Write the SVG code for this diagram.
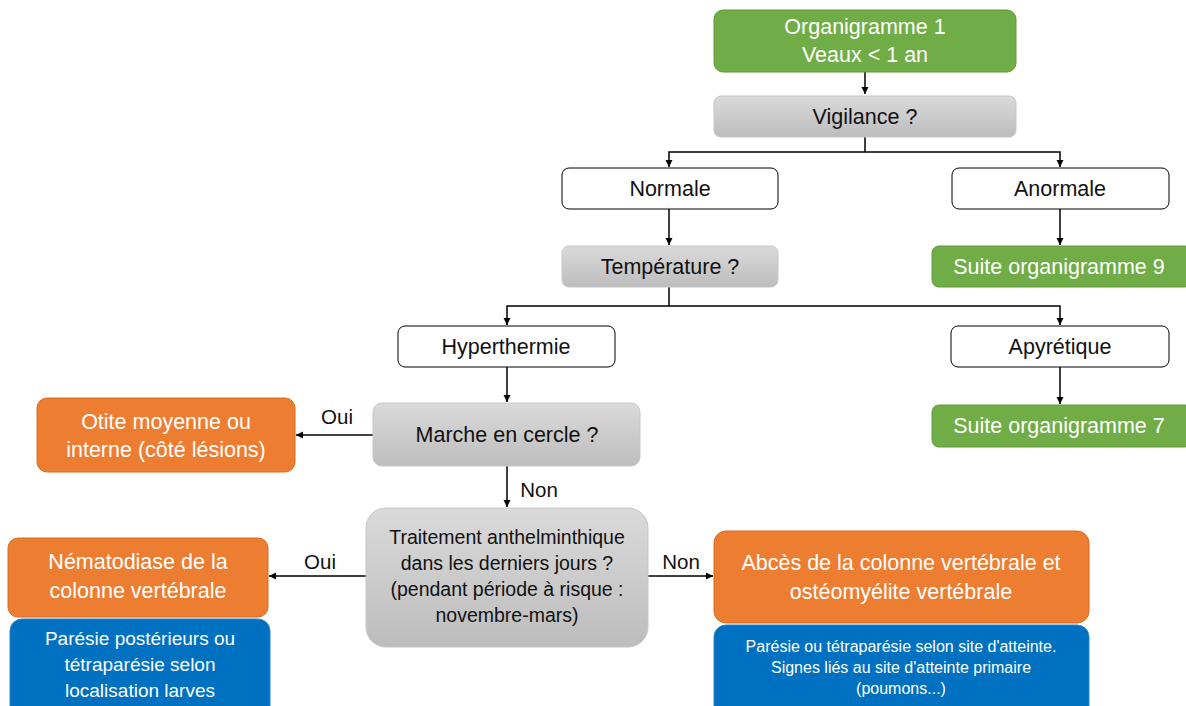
<svg xmlns="http://www.w3.org/2000/svg" width="1186" height="706" viewBox="0 0 1186 706">
  <defs>
    <linearGradient id="grayFill" x1="0" y1="0" x2="0" y2="1">
      <stop offset="0" stop-color="#DADADA"/>
      <stop offset="1" stop-color="#BDBDBD"/>
    </linearGradient>
    <marker id="arrow" markerWidth="8" markerHeight="8" refX="7" refY="4" orient="auto" markerUnits="userSpaceOnUse">
      <path d="M0,0.5 L7,4 L0,7.5 z" fill="#000"/>
    </marker>
  </defs>
  <style>
    text { font-family: "Liberation Sans", Arial, sans-serif; text-anchor: middle; dominant-baseline: central; }
    .green { fill: #70AD47; stroke: #5E9A3A; stroke-width: 1; }
    .gray { fill: url(#grayFill); stroke: #C6C6C6; stroke-width: 1; }
    .white { fill: #FFFFFF; stroke: #000; stroke-width: 1; }
    .orange { fill: #ED7D31; stroke: #D86C25; stroke-width: 1; }
    .blue { fill: #0070C0; stroke: #2E84C8; stroke-width: 1; }
    .lt { fill: #FFFFFF; }
    .dk { fill: #111111; }
    .f18 { font-size: 21.5px; }
    .f15 { font-size: 19.5px; }
    .f16 { font-size: 19px; }
    .f13 { font-size: 16px; }
    .conn { fill: none; stroke: #000; stroke-width: 1.5; }
    .lbl { font-size: 20.5px; fill: #111111; }
  </style>

  <!-- connectors -->
  <g id="connectors">
    <path class="conn" d="M865,72 V94" marker-end="url(#arrow)"/>
    <path class="conn" d="M865,137 V152 H669 V167" marker-end="url(#arrow)"/>
    <path class="conn" d="M865,152 H1060 V167" marker-end="url(#arrow)"/>
    <path class="conn" d="M669,209 V245" marker-end="url(#arrow)"/>
    <path class="conn" d="M1060,209 V245" marker-end="url(#arrow)"/>
    <path class="conn" d="M669,287 V306 H507 V325" marker-end="url(#arrow)"/>
    <path class="conn" d="M669,306 H1060 V325" marker-end="url(#arrow)"/>
    <path class="conn" d="M507,367 V402" marker-end="url(#arrow)"/>
    <path class="conn" d="M1060,367 V404" marker-end="url(#arrow)"/>
    <path class="conn" d="M373,435 H296" marker-end="url(#arrow)"/>
    <text class="lbl" x="337" y="416">Oui</text>
    <path class="conn" d="M507,466 V507" marker-end="url(#arrow)"/>
    <text class="lbl" x="539" y="489">Non</text>
    <path class="conn" d="M366,576 H269" marker-end="url(#arrow)"/>
    <text class="lbl" x="320" y="561">Oui</text>
    <path class="conn" d="M648,576 H713" marker-end="url(#arrow)"/>
    <text class="lbl" x="681" y="561">Non</text>
  </g>

  <g id="organigramme1">
    <rect class="green" x="714" y="10" width="302" height="62" rx="9"/>
    <text class="lt f18" x="865" y="27">Organigramme 1</text>
    <text class="lt f18" x="865" y="55">Veaux &lt; 1 an</text>
  </g>

  <g id="vigilance">
    <rect class="gray" x="714" y="96" width="302" height="41" rx="7"/>
    <text class="dk f18" x="865" y="117">Vigilance ?</text>
  </g>

  <g id="normale">
    <rect class="white" x="562" y="168" width="216" height="41" rx="7"/>
    <text class="dk f18" x="670" y="189">Normale</text>
  </g>

  <g id="anormale">
    <rect class="white" x="952" y="168" width="217" height="41" rx="7"/>
    <text class="dk f18" x="1060" y="189">Anormale</text>
  </g>

  <g id="temperature">
    <rect class="gray" x="562" y="246" width="216" height="41" rx="7"/>
    <text class="dk f18" x="670" y="267">Température ?</text>
  </g>

  <g id="suite9">
    <rect class="green" x="932" y="246" width="260" height="41" rx="7"/>
    <text class="lt f18" x="1059" y="267">Suite organigramme 9</text>
  </g>

  <g id="hyperthermie">
    <rect class="white" x="398" y="326" width="217" height="41" rx="7"/>
    <text class="dk f18" x="506" y="347">Hyperthermie</text>
  </g>

  <g id="apyretique">
    <rect class="white" x="951" y="326" width="218" height="41" rx="7"/>
    <text class="dk f18" x="1060" y="347">Apyrétique</text>
  </g>

  <g id="suite7">
    <rect class="green" x="932" y="405" width="260" height="42" rx="7"/>
    <text class="lt f18" x="1059" y="426">Suite organigramme 7</text>
  </g>

  <g id="marche">
    <rect class="gray" x="373" y="403" width="267" height="63" rx="9"/>
    <text class="dk f18" x="507" y="435">Marche en cercle ?</text>
  </g>

  <g id="otite">
    <rect class="orange" x="37" y="398" width="258" height="74" rx="10"/>
    <text class="lt f18" x="166" y="422">Otite moyenne ou</text>
    <text class="lt f18" x="166" y="450">interne (côté lésions)</text>
  </g>

  <g id="traitement">
    <rect class="gray" x="366" y="508" width="282" height="139" rx="20"/>
    <text class="dk f15" x="507" y="537">Traitement anthelminthique</text>
    <text class="dk f15" x="507" y="563">dans les derniers jours ?</text>
    <text class="dk f15" x="507" y="589">(pendant période à risque :</text>
    <text class="dk f15" x="507" y="615">novembre-mars)</text>
  </g>

  <g id="nematodiase">
    <rect class="orange" x="8" y="538" width="260" height="79" rx="10"/>
    <text class="lt f18" x="138" y="562">Nématodiase de la</text>
    <text class="lt f18" x="138" y="591">colonne vertébrale</text>
  </g>

  <g id="nematodiase-signes">
    <rect class="blue" x="10" y="619" width="260" height="100" rx="12"/>
    <text class="lt f16" x="140" y="638">Parésie postérieurs ou</text>
    <text class="lt f16" x="140" y="664">tétraparésie selon</text>
    <text class="lt f16" x="140" y="690">localisation larves</text>
  </g>

  <g id="abces">
    <rect class="orange" x="714" y="531" width="375" height="92" rx="12"/>
    <text class="lt f18" x="901" y="563">Abcès de la colonne vertébrale et</text>
    <text class="lt f18" x="901" y="592">ostéomyélite vertébrale</text>
  </g>

  <g id="abces-signes">
    <rect class="blue" x="714" y="625" width="375" height="100" rx="12"/>
    <text class="lt f13" x="901" y="646">Parésie ou tétraparésie selon site d'atteinte.</text>
    <text class="lt f13" x="901" y="667">Signes liés au site d'atteinte primaire</text>
    <text class="lt f13" x="901" y="688">(poumons...)</text>
  </g>
</svg>
